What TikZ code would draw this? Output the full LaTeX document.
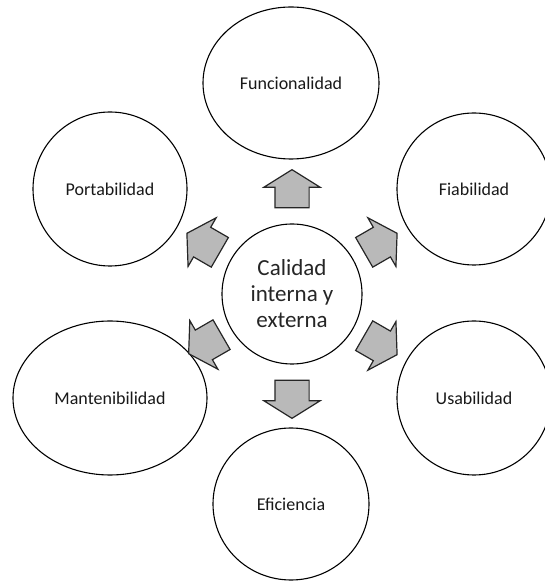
\documentclass[tikz,border=0pt]{standalone}
\usepackage{fontspec}
\setmainfont{Carlito}
\usetikzlibrary{shapes.geometric,shapes.arrows,calc}

\tikzset{
  bubble/.style={ellipse,draw=black,line width=1.1pt,fill=white,inner sep=0pt,
    font=\fontsize{18}{21}\selectfont,text=black!90},
  core/.style={circle,draw=black,line width=1.1pt,fill=white,minimum size=140pt,
    inner sep=0pt,align=center,font=\fontsize{23}{26}\selectfont,text=black!85},
  blockarrow/.style={single arrow,draw=black!85,line width=1.2pt,fill=gray!55,
    inner sep=0pt,inner ysep=16.5pt,minimum height=38pt,minimum width=55pt,
    single arrow head extend=11pt,single arrow tip angle=116}
}

\begin{document}
\begin{tikzpicture}[x=1pt,y=1pt]
  \useasboundingbox (0,0) rectangle (544,581);
  \node[core] (centre) at (292,287) {Calidad\\interna y\\externa};

  \node[bubble,minimum width=176pt,minimum height=152pt] (func) at (291,498) {Funcionalidad};
  \node[bubble,minimum width=154pt,minimum height=154pt] (port) at (110,392) {Portabilidad};
  \node[bubble,minimum width=154pt,minimum height=152pt] (fiab) at (474,392) {Fiabilidad};
  \node[bubble,minimum width=194pt,minimum height=154pt] (mant) at (110,183) {Mantenibilidad};
  \node[bubble,minimum width=154pt,minimum height=154pt] (usab) at (474,183) {Usabilidad};
  \node[bubble,minimum width=156pt,minimum height=152pt] (efic) at (291,77) {Eficiencia};

  % block arrows around the centre
  \foreach \ang/\dist/\nm in {90/100/aN,30/97/aNE,-30/97/aSE,-90/100/aS,210/95/aSW,150/97/aNW} {
    \node[blockarrow,rotate=\ang] (\nm) at ($(centre)+(\ang:\dist)$) {};
  }
\end{tikzpicture}
\end{document}
